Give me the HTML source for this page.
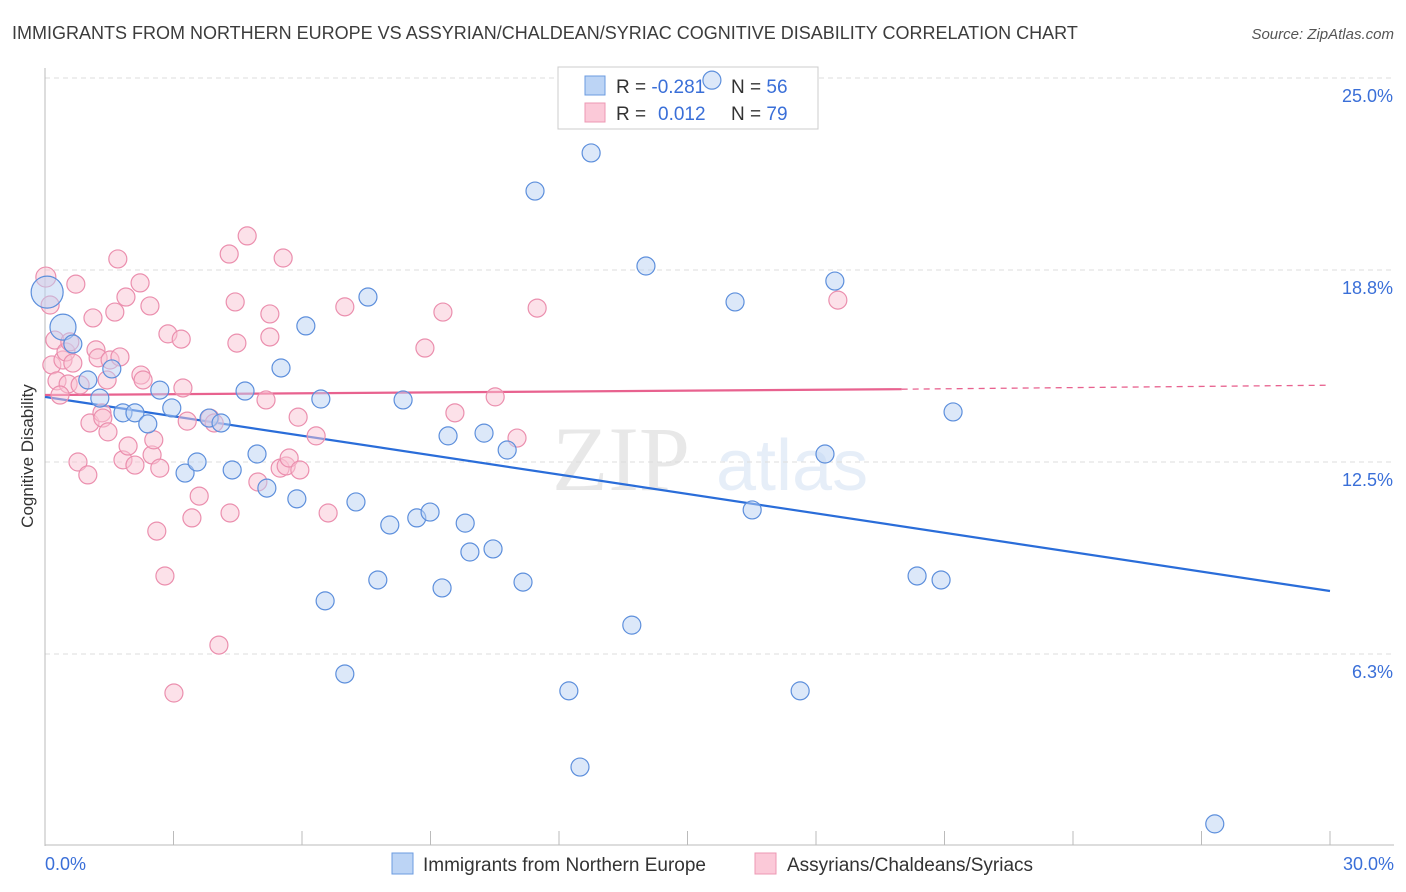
<!DOCTYPE html>
<html><head><meta charset="utf-8"><style>
body{margin:0;background:#fff;font-family:"Liberation Sans",sans-serif;}
svg{display:block}
</style></head><body>
<svg id="chart" width="1406" height="892" xmlns="http://www.w3.org/2000/svg">
<text x="12" y="39" font-size="18" fill="#3c3c3c">IMMIGRANTS FROM NORTHERN EUROPE VS ASSYRIAN/CHALDEAN/SYRIAC COGNITIVE DISABILITY CORRELATION CHART</text>
<text x="1394" y="39" font-size="15" fill="#555" font-style="italic" text-anchor="end">Source: ZipAtlas.com</text>
<g opacity="0.13">
<text x="552" y="490" font-family="Liberation Serif,serif" font-size="92" fill="#555">ZIP</text>
<text x="716" y="490" font-size="72" fill="#4a7fd0">atlas</text>
</g>
<g id="grid"></g>
<g id="axes"></g>
<g>
<rect x="558" y="67" width="260" height="62" fill="#fff" stroke="#ccc"/>
<rect x="585" y="76" width="20" height="19" fill="#bcd4f5" stroke="#6b9be0"/>
<rect x="585" y="103" width="20" height="19" fill="#fbc9d8" stroke="#ec98b3"/>
<text x="616" y="93" font-size="19" fill="#333">R = <tspan fill="#3a6fd8">-0.281</tspan><tspan x="731">N = </tspan><tspan fill="#3a6fd8">56</tspan></text>
<text x="616" y="120" font-size="19" fill="#333">R = <tspan x="658" fill="#3a6fd8">0.012</tspan><tspan x="731">N = </tspan><tspan fill="#3a6fd8">79</tspan></text>
</g>
<g id="lines"></g>
<g id="pts"></g>
<text transform="translate(33,456) rotate(-90)" font-size="17" fill="#333" text-anchor="middle">Cognitive Disability</text>
<g>
<rect x="392" y="853" width="21" height="21" fill="#bcd4f5" stroke="#6b9be0"/>
<text x="423" y="871" font-size="19" fill="#333">Immigrants from Northern Europe</text>
<rect x="755" y="853" width="21" height="21" fill="#fbc9d8" stroke="#ec98b3"/>
<text x="787" y="871" font-size="19" fill="#333">Assyrians/Chaldeans/Syriacs</text>
</g>
</svg>
<script>
const yTicks=[25,18.75,12.5,6.25];
const yTickLabels=["25.0%","18.8%","12.5%","6.3%"];
const xTickLabels=["0.0%","30.0%"];
const blueX=[0.05,0.42,0.65,1.00,1.28,1.56,1.82,2.10,2.40,2.68,2.96,3.27,3.55,3.83,4.11,4.37,4.67,4.95,5.18,5.51,5.88,6.09,6.44,6.54,7.00,7.26,7.54,7.77,8.05,8.36,8.68,8.99,9.27,9.41,9.81,9.92,10.25,10.46,10.79,11.16,11.44,12.23,12.49,12.75,13.70,14.03,15.57,16.11,16.51,17.63,18.21,18.44,20.36,20.92,21.20,27.31];
const blueY=[18.03,16.89,16.34,15.17,14.58,15.53,14.10,14.10,13.74,14.84,14.26,12.14,12.50,13.93,13.77,12.24,14.81,12.76,11.65,15.56,11.30,16.93,14.55,7.98,5.60,11.20,17.87,8.66,10.45,14.52,10.68,10.87,8.40,13.35,10.51,9.57,13.44,9.67,12.89,8.59,21.32,5.05,2.57,22.56,7.19,18.88,24.93,17.71,10.94,5.05,12.76,18.39,8.79,8.66,14.13,0.72];
const pinkX=[0.02,0.12,0.16,0.23,0.28,0.42,0.49,0.54,0.58,0.65,0.72,0.77,0.82,1.00,1.05,1.12,1.19,1.24,1.33,1.35,1.45,1.47,1.52,1.63,1.70,1.75,1.82,1.89,1.94,2.10,2.22,2.24,2.29,2.45,2.50,2.54,2.61,2.68,2.80,2.87,3.01,3.18,3.22,3.32,3.43,3.60,3.85,3.95,4.06,4.30,4.32,4.44,4.48,4.72,4.97,5.16,5.25,5.25,5.49,5.56,5.63,5.70,5.91,5.95,6.33,6.61,7.00,8.87,9.29,9.57,10.51,11.02,11.49,18.51,0.35];
const pinkY=[18.52,17.61,15.66,16.47,15.14,15.82,16.08,15.04,16.41,15.72,18.29,12.50,15.01,12.08,13.77,17.19,16.15,15.89,14.10,13.93,15.17,13.48,15.82,17.38,19.11,15.92,12.57,17.87,13.02,12.40,18.33,15.33,15.17,17.58,12.73,13.22,10.25,12.30,8.79,16.67,4.98,16.50,14.91,13.83,10.68,11.39,13.93,13.77,6.54,19.27,10.84,17.71,16.37,19.86,11.85,14.52,17.32,16.57,12.30,19.14,12.37,12.63,13.96,12.24,13.35,10.84,17.55,16.21,17.38,14.10,14.62,13.28,17.51,17.77,14.68];
const blueLine=[0,14.62,30,8.30];
const pinkLine=[0,14.68,20,14.87,30,15.0];
const NS="http://www.w3.org/2000/svg";
const X=v=>45+v/30*1285, Y=v=>846-v*30.72;
function mk(t,a,p){const e=document.createElementNS(NS,t);for(const k in a)e.setAttribute(k,a[k]);p.appendChild(e);return e;}
const grid=document.getElementById('grid'),axes=document.getElementById('axes'),lines=document.getElementById('lines'),pts=document.getElementById('pts');
yTicks.forEach((v,i)=>{
 const l=mk('line',{x1:45,x2:1394,y1:Y(v),y2:Y(v),stroke:'#ddd','stroke-dasharray':'5,4'},grid);
 
 
 const t=mk('text',{x:1393,y:Y(v)+24,'font-size':18,fill:'#3a6fd8','text-anchor':'end'},axes);
 t.textContent=yTickLabels[i];
 
 
});
mk('line',{x1:45,x2:45,y1:68,y2:846,stroke:'#bbb'},axes);
mk('line',{x1:45,x2:1394,y1:845,y2:845,stroke:'#bbb'},axes);
for(let i=0;i<=10;i++){const x=X(i*3);mk('line',{x1:x,x2:x,y1:831,y2:845,stroke:'#bbb'},axes);}
[[0,'start',45],[1,'end',1394]].forEach(([i,a,x])=>{
 const t=mk('text',{x:x,y:870,'font-size':18,fill:'#3a6fd8','text-anchor':a},axes);
 t.textContent=xTickLabels[i];
 
 
});
function dot(x,y,r,fill,stroke){
 const c=mk('circle',{cx:X(x),cy:Y(y),r:r,fill:fill,'fill-opacity':0.5,stroke:stroke,'stroke-width':1.2},pts);
 return c;
}
pinkX.forEach((x,i)=>{
 const c=dot(x,pinkY[i],i===0?10:9,'#f9c3d3','#eb8fae');
 
 
});
blueX.forEach((x,i)=>{
 const c=dot(x,blueY[i],i===0?16:(i===1?13:9),'#b9d1f4','#5d8fdc');
 
 
});
const bl=mk('line',{x1:X(blueLine[0]),y1:Y(blueLine[1]),x2:X(blueLine[2]),y2:Y(blueLine[3]),stroke:'#2a6dd9','stroke-width':2.2},lines);


const pl=mk('line',{x1:X(pinkLine[0]),y1:Y(pinkLine[1]),x2:X(pinkLine[2]),y2:Y(pinkLine[3]),stroke:'#e8628f','stroke-width':2.2},lines);


const pd=mk('line',{x1:X(pinkLine[2]),y1:Y(pinkLine[3]),x2:X(pinkLine[4]),y2:Y(pinkLine[5]),stroke:'#e8628f','stroke-width':1.3,'stroke-dasharray':'6,5'},lines);


</script>
</body></html>
